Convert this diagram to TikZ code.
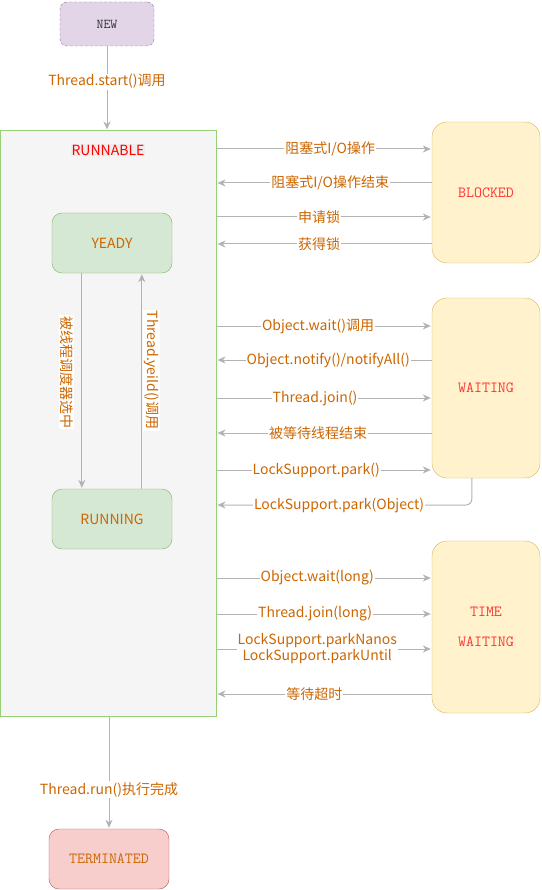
\documentclass[tikz,border=0pt]{standalone}
\usepackage{fontspec}
\setmainfont{Noto Sans CJK SC}
\usetikzlibrary{arrows.meta,calc}
\definecolor{lgray}{HTML}{B3B3B3}
\definecolor{ltxt}{HTML}{CC6600}
\definecolor{newf}{HTML}{E1D5E7}
\definecolor{newb}{HTML}{9673A6}
\definecolor{runf}{HTML}{F5F5F5}
\definecolor{runb}{HTML}{97D077}
\definecolor{grnf}{HTML}{D5E8D4}
\definecolor{grnb}{HTML}{82B366}
\definecolor{ylwf}{HTML}{FFF2CC}
\definecolor{ylwb}{HTML}{D6B656}
\definecolor{redf}{HTML}{F8CECC}
\definecolor{redb}{HTML}{B85450}
\definecolor{sred}{HTML}{FF3333}
\begin{document}
\begin{tikzpicture}[x=1pt,y=-1pt,
  arr/.style={draw=lgray, line width=1pt, -{Stealth[length=8pt,width=7pt,inset=2.5pt]}, shorten >=1pt},
  lab/.style={fill=white, text=ltxt, font=\fontsize{14}{16}\selectfont, inner sep=1pt, align=center},
  vlab/.style={lab, rotate=-90},
  greenbox/.style={draw=grnb, fill=grnf, rounded corners=10pt, minimum width=120pt, minimum height=60pt, inner sep=0pt, text=ltxt, font=\fontsize{14}{16}\selectfont},
  ylwbox/.style={draw=ylwb, fill=ylwf, rounded corners=15pt, minimum width=108pt, inner sep=0pt, text=sred, font=\ttfamily\fontsize{15.5}{30}\selectfont, align=center}
]
\useasboundingbox (0,0) rectangle (541,890);

% states
\node[draw=newb, fill=newf, dash pattern=on 3pt off 2pt, rounded corners=7pt, minimum width=94pt, minimum height=44pt, inner sep=0pt, text=black!80, font=\ttfamily\fontsize{13.5}{15}\selectfont] (new) at (107,24) {NEW};
\node[draw=runb, fill=runf, line width=1pt, minimum width=216pt, minimum height=585pt, inner sep=0pt] (runnable) at (108,423.5) {};
\node[fill=black!7, text=red, inner sep=1pt, font=\fontsize{14}{16}\selectfont] (rtitle) at (108,150) {RUNNABLE};
\node[greenbox] (yeady) at (112,243) {YEADY};
\node[greenbox] (running) at (112,519) {RUNNING};
\node[ylwbox, minimum height=141pt] (blocked) at (486,192.5) {BLOCKED};
\node[ylwbox, minimum height=180pt] (waiting) at (486,388) {WAITING};
\node[ylwbox, minimum height=172pt] (timew) at (486,627) {TIME\\WAITING};
\node[draw=redb, fill=redf, rounded corners=10pt, minimum width=120pt, minimum height=60pt, inner sep=0pt, text=ltxt, font=\ttfamily\fontsize{15.5}{17}\selectfont] (term) at (109,859) {TERMINATED};

% start / end
\draw[arr] (new.south) -- node[lab, pos=0.42] {Thread.start()调用} (new.south |- runnable.north);
\draw[arr] (term.north |- runnable.south) -- node[lab, pos=0.65] {Thread.run()执行完成} (term.north);

% inside runnable
\draw[arr] ($(yeady.south west)+(30,0)$) -- node[pos=0.46, xshift=-15pt, vlab] {被线程调度器选中} ($(running.north west)+(30,0)$);
\draw[arr] ($(running.north west)+(90,0)$) -- node[pos=0.55, xshift=10pt, vlab] {Thread.yeild()调用} ($(yeady.south west)+(90,0)$);

% blocked
\draw[arr] (runnable.east |- 0,149) -- node[lab, pos=0.528] {阻塞式I/O操作} (blocked.west |- 0,149);
\draw[arr] (blocked.west |- 0,183) -- node[lab, pos=0.472] {阻塞式I/O操作结束} (runnable.east |- 0,183);
\draw[arr] (runnable.east |- 0,217) -- node[lab, pos=0.477] {申请锁} (blocked.west |- 0,217);
\draw[arr] (blocked.west |- 0,244) -- node[lab, pos=0.523] {获得锁} (runnable.east |- 0,244);

% waiting
\draw[arr] (runnable.east |- 0,326) -- node[lab, pos=0.472] {Object.wait()调用} (waiting.west |- 0,326);
\draw[arr] (waiting.west |- 0,360) -- node[lab, pos=0.481] {Object.notify()/notifyAll()} (runnable.east |- 0,360);
\draw[arr] (runnable.east |- 0,398) -- node[lab, pos=0.458] {Thread.join()} (waiting.west |- 0,398);
\draw[arr] (waiting.west |- 0,433) -- node[lab, pos=0.528] {被等待线程结束} (runnable.east |- 0,433);
\draw[arr] (runnable.east |- 0,470) -- node[lab, pos=0.463] {LockSupport.park()} (waiting.west |- 0,470);
\draw[arr, rounded corners=6pt] ($(waiting.south west)+(40,0)$) |- node[lab, pos=0.76] {LockSupport.park(Object)} (runnable.east |- 0,505);

% time waiting
\draw[arr] (runnable.east |- 0,578) -- node[lab, pos=0.468] {Object.wait(long)} (timew.west |- 0,578);
\draw[arr] (runnable.east |- 0,614) -- node[lab, pos=0.458] {Thread.join(long)} (timew.west |- 0,614);
\draw[arr] (runnable.east |- 0,649) -- node[lab, pos=0.468] {LockSupport.parkNanos\\LockSupport.parkUntil} (timew.west |- 0,649);
\draw[arr] (timew.west |- 0,694) -- node[lab, pos=0.546] {等待超时} (runnable.east |- 0,694);
\end{tikzpicture}
\end{document}
